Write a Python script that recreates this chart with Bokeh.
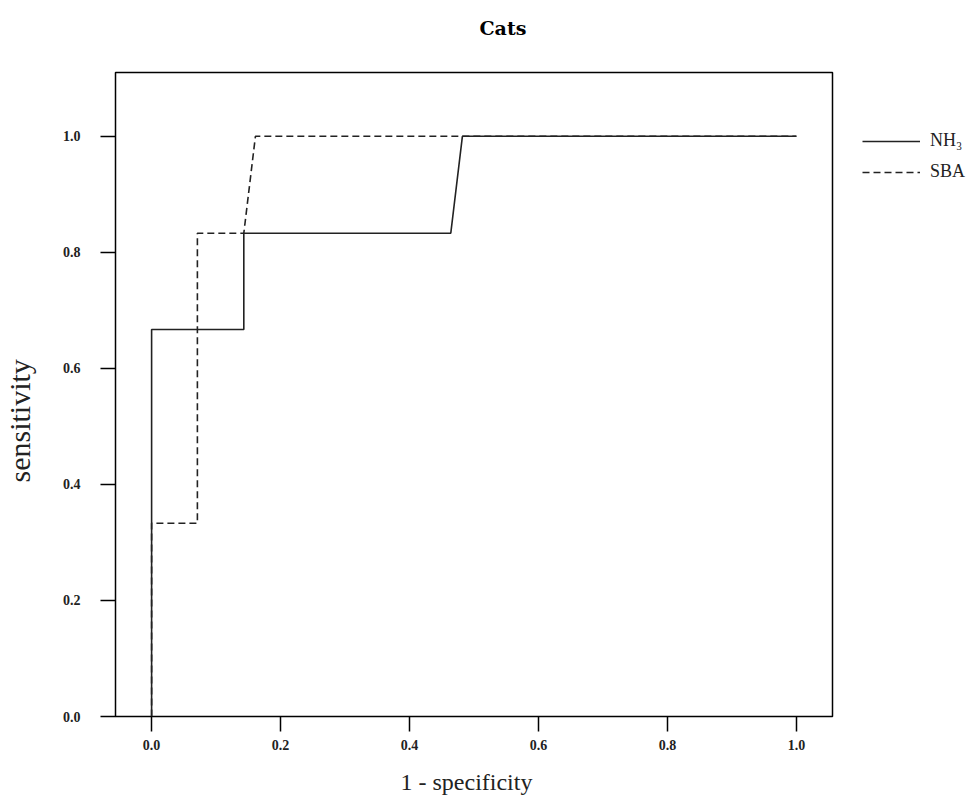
from bokeh.plotting import figure
from bokeh.models import Range1d, FixedTicker, PrintfTickFormatter, Legend, LegendItem, Title
from bokeh.embed import file_html
from bokeh.resources import INLINE

# Data
nh3_fpr = [0.0, 0.0, 0.143, 0.143, 0.464, 0.482, 1.0]
nh3_tpr = [0.0, 0.667, 0.667, 0.833, 0.833, 1.0, 1.0]
sba_fpr = [0.0, 0.0, 0.071, 0.071, 0.143, 0.161, 1.0]
sba_tpr = [0.0, 0.333, 0.333, 0.833, 0.833, 1.0, 1.0]
tick_values = [0.0, 0.2, 0.4, 0.6, 0.8, 1.0]
series_names = ["NH\u2083", "SBA"]
title_text = "Cats"
x_label = "1 - specificity"
y_label = "sensitivity"

SERIF = "Liberation Serif"

p = figure(
    frame_width=717, frame_height=644,
    min_border_left=115, min_border_top=72, min_border_right=134, min_border_bottom=90,
    x_range=Range1d(-0.056, 1.056), y_range=Range1d(0.0, 1.110),
    output_backend="svg", toolbar_location=None,
)
p.background_fill_color = "white"
p.border_fill_color = "white"
p.outline_line_color = "black"
p.outline_line_width = 1.5
p.xgrid.visible = False
p.ygrid.visible = False

for ax in (p.xaxis[0], p.yaxis[0]):
    ax.ticker = FixedTicker(ticks=tick_values)
    ax.formatter = PrintfTickFormatter(format="%.1f")
    ax.axis_line_color = None
    ax.major_tick_in = 0
    ax.major_tick_out = 15
    ax.major_tick_line_color = "black"
    ax.major_tick_line_width = 1.5
    ax.minor_tick_line_color = None
    ax.major_label_text_font = SERIF
    ax.major_label_text_font_size = "14px"
    ax.major_label_text_font_style = "bold"
    ax.major_label_text_color = "#222222"
p.yaxis[0].major_label_standoff = 20
p.xaxis[0].major_label_standoff = 8

r1 = p.line(nh3_fpr, nh3_tpr, line_color="#222222", line_width=1.6)
r2 = p.line(sba_fpr, sba_tpr, line_color="#222222", line_width=1.6, line_dash="7 4")

legend = Legend(
    items=[LegendItem(label=series_names[0], renderers=[r1]),
           LegendItem(label=series_names[1], renderers=[r2])],
    location=(30, 534),
    glyph_width=58, glyph_height=20, label_height=20, label_standoff=10, spacing=10,
    padding=0, margin=0,
    border_line_color=None, background_fill_alpha=0,
    label_text_font=SERIF, label_text_font_size="18px", label_text_color="#222222",
)
p.add_layout(legend, "right")

# trailing empty line lifts the title inside its panel
p.add_layout(Title(text=title_text + "\n", align="left", offset=364, standoff=24,
                   text_font="DejaVu Serif", text_font_style="bold", text_font_size="19px",
                   text_color="black"), "above")
p.add_layout(Title(text=x_label, align="left", offset=285, standoff=28,
                   text_font=SERIF, text_font_size="24px", text_font_style="normal",
                   text_color="#222222"), "below")
# trailing empty line pushes the rotated label outward
p.add_layout(Title(text=y_label + "\n", align="left", offset=234, standoff=0,
                   text_line_height=0.7,
                   text_font=SERIF, text_font_size="30px", text_font_style="normal",
                   text_color="#222222"), "left")

open("out.html", "w").write(file_html(p, INLINE))
